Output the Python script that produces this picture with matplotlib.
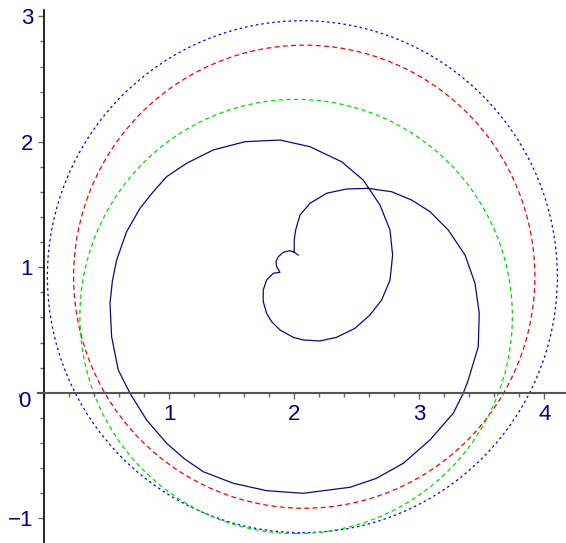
import matplotlib
matplotlib.use("Agg")
import matplotlib.pyplot as plt
from matplotlib.patches import Circle
from matplotlib.ticker import MultipleLocator, FixedLocator

# closed curve (polyline), starts at the inner cusp
curve_x = [2.032, 2.000, 2.000, 2.011, 2.046, 2.126, 2.259, 2.419, 2.592, 2.779,
           2.939, 3.086, 3.232, 3.366, 3.446, 3.480, 3.472, 3.392, 3.352, 3.272,
           3.086, 2.872, 2.659, 2.446, 2.072, 1.779, 1.512, 1.272, 1.120, 0.979,
           0.819, 0.686, 0.592, 0.539, 0.526, 0.545, 0.579, 0.659, 0.766, 0.872,
           0.979, 1.139, 1.352, 1.606, 1.886, 2.126, 2.379, 2.552, 2.686, 2.766,
           2.787, 2.766, 2.699, 2.606, 2.486, 2.339, 2.206, 2.072, 1.992, 1.886,
           1.819, 1.779, 1.752, 1.752, 1.779, 1.832, 1.886, 1.859, 1.854, 1.872,
           1.912, 1.966, 2.000]
curve_y = [1.098, 1.120, 1.218, 1.297, 1.417, 1.510, 1.590, 1.624, 1.629, 1.602,
           1.536, 1.443, 1.297, 1.098, 0.873, 0.633, 0.367, 0.102, -0.004, -0.163,
           -0.376, -0.562, -0.681, -0.753, -0.801, -0.780, -0.721, -0.629, -0.525, -0.402,
           -0.217, -0.004, 0.182, 0.447, 0.713, 0.890, 1.058, 1.284, 1.470, 1.602,
           1.722, 1.829, 1.935, 2.001, 2.014, 1.961, 1.841, 1.695, 1.496, 1.297,
           1.098, 0.898, 0.739, 0.620, 0.514, 0.442, 0.413, 0.421, 0.442, 0.500,
           0.567, 0.633, 0.726, 0.819, 0.899, 0.952, 0.960, 1.005, 1.045, 1.084,
           1.120, 1.132, 1.120]

# circles: blue dotted, red dashed, green dashed
circle_names = ["blue", "red", "green"]
circle_cx = [2.065, 2.08, 2.015]
circle_cy = [0.925, 0.925, 0.608]
circle_r = [2.04, 1.845, 1.73]

x_ticks = [1, 2, 3, 4]
y_ticks = [-1, 1, 2, 3]

label_color = "#000080"
styles = {
    "blue": ("#0000ff", (0, (2.0, 2.4))),
    "red": ("#ff0000", (0, (4.0, 2.6))),
    "green": ("#00e000", (0, (3.5, 2.6))),
}

fig = plt.figure(figsize=(5.66, 5.43), dpi=100)
ax = fig.add_axes([0, 0, 1, 1])
ax.set_xlim(-0.354, 4.174)
ax.set_ylim(-1.197, 3.130)

for name, cx, cy, r in zip(circle_names, circle_cx, circle_cy, circle_r):
    col, ls = styles[name]
    ax.add_patch(Circle((cx, cy), r, fill=False, edgecolor=col,
                        linestyle=ls, linewidth=0.9))

ax.plot(curve_x, curve_y, color="#0a0a80", linewidth=0.9)

# maple-style axes through the origin
ax.spines["top"].set_visible(False)
ax.spines["right"].set_visible(False)
ax.spines["left"].set_position(("data", 0))
ax.spines["bottom"].set_position(("data", 0))
ax.spines["left"].set_bounds(-1.2, 3.05)
ax.spines["bottom"].set_bounds(-0.05, 4.174)
ax.spines["left"].set_color("black")
ax.spines["bottom"].set_color("#555555")
ax.spines["left"].set_linewidth(1.2)
ax.spines["bottom"].set_linewidth(1.5)

ax.xaxis.set_major_locator(FixedLocator(x_ticks))
ax.yaxis.set_major_locator(FixedLocator(y_ticks))
ax.xaxis.set_minor_locator(MultipleLocator(0.2))
ax.yaxis.set_minor_locator(MultipleLocator(0.2))
ax.set_xticklabels([str(t) for t in x_ticks])
ax.set_yticklabels(["\u22121" if t < 0 else str(t) for t in y_ticks])

ax.tick_params(which="major", direction="out", length=4.5, width=1.0,
               color="#666666", labelcolor=label_color, labelsize=16, pad=3.5)
ax.tick_params(which="minor", direction="out", length=2.8, width=1.0,
               color="#666666")
for lab in ax.get_xticklabels() + ax.get_yticklabels():
    lab.set_fontfamily("Liberation Sans")

# origin label
ax.text(-0.11, -0.07, "0", color=label_color, fontsize=16,
        family="Liberation Sans", ha="right", va="center")

fig.savefig("out.png", dpi=100)
